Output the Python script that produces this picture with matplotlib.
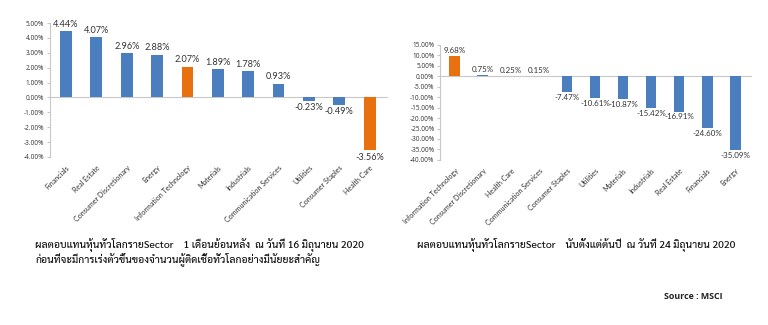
"""Sector returns of global equities, two bar panels side by side."""

import matplotlib.pyplot as plt
from matplotlib.ticker import FuncFormatter, MultipleLocator

BLUE = "#4a7ebf"
ORANGE = "#e8700f"

# one month to 16 June 2020
month_sectors = [
    "Financials", "Real Estate", "Consumer Discretionary", "Energy",
    "Information Technology", "Materials", "Industrials",
    "Communication Services", "Utilities", "Consumer Staples", "Health Care",
]
month_returns = [4.44, 4.07, 2.96, 2.88, 2.07, 1.89, 1.78, 0.93, -0.23, -0.49, -3.56]
month_highlight = ["Information Technology", "Health Care"]

# year to date, 24 June 2020
ytd_sectors = [
    "Information Technology", "Consumer Discretionary", "Health Care",
    "Communication Services", "Consumer Staples", "Utilities", "Materials",
    "Industrials", "Real Estate", "Financials", "Energy",
]
ytd_returns = [9.68, 0.75, 0.25, 0.15, -7.47, -10.61, -10.87, -15.42, -16.91, -24.60, -35.09]
ytd_highlight = ["Information Technology", "Health Care"]

month_caption = ("ผลตอบแทนหุ้นทั่วโลกรายSector    1 เดือนย้อนหลัง  ณ วันที่ 16 มิถุนายน 2020\n"
                 "ก่อนที่จะมีการเร่งตัวขึ้นของจำนวนผู้ติดเชื้อทั่วโลกอย่างมีนัยยะสำคัญ")
ytd_caption = "ผลตอบแทนหุ้นทั่วโลกรายSector    นับตั้งแต่ต้นปี  ณ วันที่ 24 มิถุนายน 2020"

LATIN = ["Lato", "DejaVu Sans"]
TICKS = ["Open Sans", "DejaVu Sans"]
THAI = ["Sarabun", "DejaVu Sans"]
TEXT = "#333333"


def draw_panel(ax, sectors, values, highlight, ylim, step, offset, label_size):
    colors = [ORANGE if s in highlight else BLUE for s in sectors]
    x = range(len(sectors))
    ax.bar(x, values, width=0.39, color=colors, zorder=2)
    ax.axhline(0, color="#c8c8c8", lw=0.8, zorder=1)

    for xi, v in zip(x, values):
        va = "bottom" if v >= 0 else "top"
        ax.text(xi, v + (offset if v >= 0 else -offset), f"{v:.2f}%",
                ha="center", va=va, fontsize=label_size, color=TEXT,
                family=LATIN)

    ax.set_ylim(*ylim)
    ax.set_xlim(-0.53, len(sectors) - 0.4)
    ax.yaxis.set_major_locator(MultipleLocator(step))
    ax.yaxis.set_major_formatter(FuncFormatter(lambda v, _: f"{v:.2f}%"))
    ax.set_xticks(list(x))
    ax.set_xticklabels(sectors, rotation=45, ha="right", rotation_mode="anchor",
                       fontsize=5.1, family=LATIN, color=TEXT)
    ax.tick_params(axis="x", length=0, pad=5)
    ax.tick_params(axis="y", labelsize=4.7, length=2, color="#c8c8c8",
                   labelcolor=TEXT, pad=2)
    for lbl in ax.get_yticklabels():
        lbl.set_family(TICKS)
    for side in ("top", "right", "bottom"):
        ax.spines[side].set_visible(False)
    ax.spines["left"].set_color("#c8c8c8")
    ax.spines["left"].set_linewidth(0.8)


fig = plt.figure(figsize=(7.68, 3.25), dpi=100)

ax1 = fig.add_axes([0.065, 0.517, 0.44, 0.412])
draw_panel(ax1, month_sectors, month_returns, month_highlight, (-4, 5), 1, 0.15, 6.6)

ax2 = fig.add_axes([0.573, 0.508, 0.406, 0.354])
draw_panel(ax2, ytd_sectors, ytd_returns, ytd_highlight, (-40, 15), 5, 0.9, 5.8)

fig.text(0.046, 0.27, month_caption, fontsize=7.4, family=THAI, weight="medium",
         color="#111111", va="top", linespacing=1.15)
fig.text(0.543, 0.27, ytd_caption, fontsize=7.4, family=THAI, weight="medium",
         color="#111111", va="top")
fig.text(0.864, 0.08, "Source : MSCI", fontsize=6.4, family=TICKS,
         weight="bold", color="#222222")

fig.savefig("out.png", dpi=100)
